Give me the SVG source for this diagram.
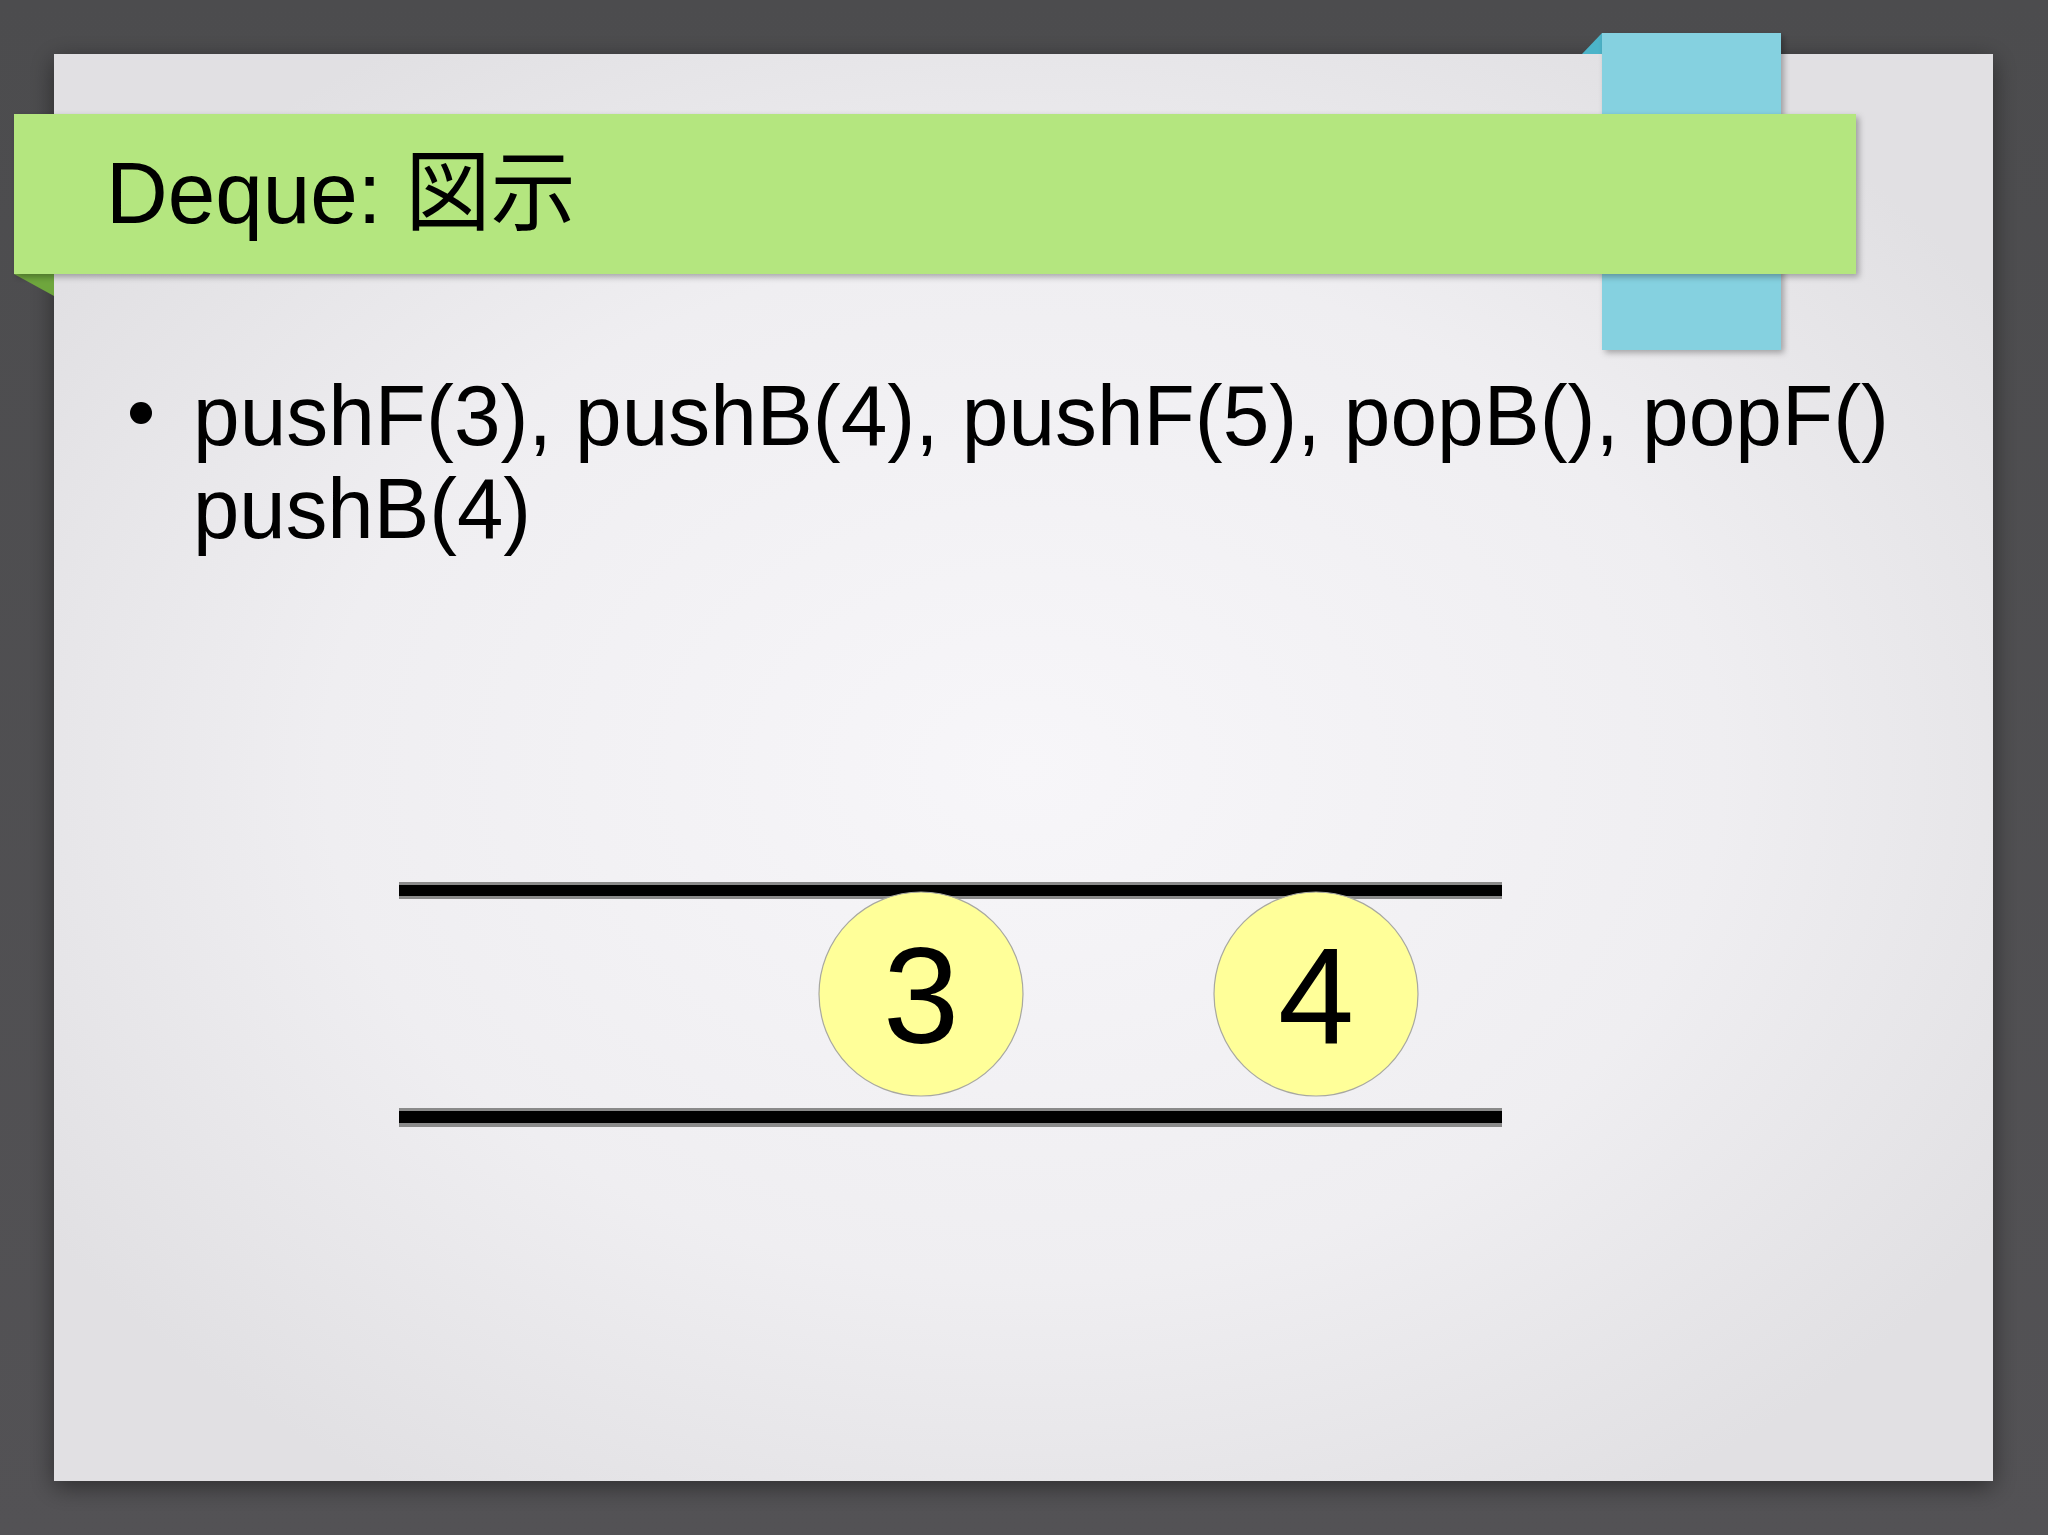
<svg xmlns="http://www.w3.org/2000/svg" width="2048" height="1535" viewBox="0 0 2048 1535">
  <defs>
    <linearGradient id="bg" x1="0" y1="0" x2="0" y2="1">
      <stop offset="0" stop-color="#4c4c4e"/>
      <stop offset="1" stop-color="#535255"/>
    </linearGradient>
    <radialGradient id="paper" cx="0.5" cy="0.5" r="0.6">
      <stop offset="0" stop-color="#f7f6f9"/>
      <stop offset="0.6" stop-color="#efeef1"/>
      <stop offset="1" stop-color="#e1e0e3"/>
    </radialGradient>
    <filter id="paperShadow" x="-5%" y="-5%" width="110%" height="112%">
      <feDropShadow dx="0" dy="6" stdDeviation="12" flood-color="#000" flood-opacity="0.45"/>
    </filter>
    <filter id="tabShadow" x="-5%" y="-10%" width="110%" height="125%">
      <feDropShadow dx="3" dy="3" stdDeviation="3" flood-color="#000" flood-opacity="0.3"/>
    </filter>
    <style>
      .sans { font-family: "Liberation Sans", Arial, "Noto Sans CJK JP", sans-serif; fill: #000; }
      .node circle { fill: #ffff99; stroke: #a8a8a0; stroke-width: 1.2; }
      .node text { font-size: 137px; text-anchor: middle; }
      .rail-edge { fill: #8a8a8a; }
      .rail-core { fill: #000; }
    </style>
  </defs>

  <rect x="0" y="0" width="2048" height="1535" fill="url(#bg)"/>

  <g id="paper-sheet">
    <rect x="54" y="54" width="1939" height="1427" fill="url(#paper)" filter="url(#paperShadow)"/>
  </g>

  <g id="blue-tab">
    <polygon points="1582,54 1602,33 1602,54" fill="#4cb4c9"/>
    <rect x="1602" y="33" width="179" height="317" fill="#85d1e0" filter="url(#tabShadow)"/>
  </g>

  <g id="title-band">
    <polygon points="14,274 54,274 54,296" fill="#6ea63d"/>
    <rect x="14" y="114" width="1842" height="160" fill="#b4e67f" filter="url(#tabShadow)"/>
    <text class="sans" x="106" y="223" font-size="88" textLength="470" lengthAdjust="spacingAndGlyphs">Deque: <tspan font-family="'Noto Sans CJK JP', sans-serif">図示</tspan></text>
  </g>

  <g id="bullet-text">
    <circle cx="141" cy="413" r="11" fill="#000"/>
    <text class="sans" x="193" y="445" font-size="86" textLength="1696" lengthAdjust="spacingAndGlyphs">pushF(3), pushB(4), pushF(5), popB(), popF()</text>
    <text class="sans" x="193" y="538" font-size="86" textLength="338" lengthAdjust="spacingAndGlyphs">pushB(4)</text>
  </g>

  <g id="connectors">
    <g id="rail-top">
      <rect class="rail-edge" x="399" y="882" width="1103" height="17"/>
      <rect class="rail-core" x="399" y="885" width="1103" height="11"/>
    </g>
    <g id="rail-bottom">
      <rect class="rail-edge" x="399" y="1108" width="1103" height="19"/>
      <rect class="rail-core" x="399" y="1111" width="1103" height="12"/>
    </g>
  </g>

  <g id="node-3" class="node">
    <circle cx="921" cy="994" r="102"/>
    <text class="sans" x="921" y="1043">3</text>
  </g>
  <g id="node-4" class="node">
    <circle cx="1316" cy="994" r="102"/>
    <text class="sans" x="1316" y="1043">4</text>
  </g>
</svg>
